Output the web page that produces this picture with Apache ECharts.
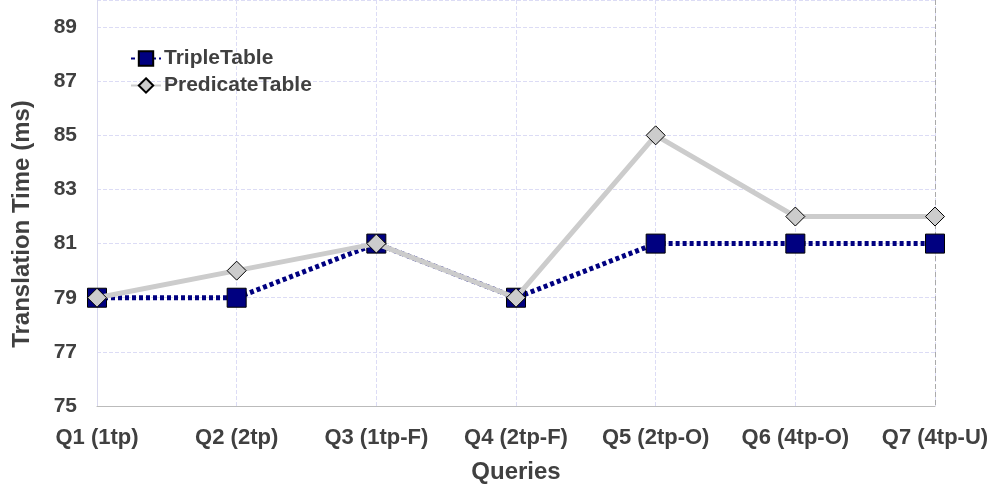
<!DOCTYPE html>
<html>
<head>
<meta charset="utf-8">
<script src="https://cdn.jsdelivr.net/npm/echarts@6/dist/echarts.min.js"></script>
<style>
html,body{margin:0;padding:0;background:#fff;}
#chart{width:994px;height:490px;}
</style>
</head>
<body>
<div id="chart"></div>
<script>
// Query labels along the x axis
const categories = ['Q1 (1tp)', 'Q2 (2tp)', 'Q3 (1tp-F)', 'Q4 (2tp-F)', 'Q5 (2tp-O)', 'Q6 (4tp-O)', 'Q7 (4tp-U)'];
// Translation times in milliseconds
const tripleTable = [79, 79, 81, 79, 81, 81, 81];
const predicateTable = [79, 80, 81, 79, 85, 82, 82];

const font = 'Liberation Sans, Arial, sans-serif';
const textColor = '#404040';

const chart = echarts.init(document.getElementById('chart'));
chart.setOption({
  animation: false,
  backgroundColor: '#fff',
  grid: { left: 97, right: 59, top: 0, bottom: 84, outerBoundsMode: 'none', containLabel: false },
  legend: {
    left: 125, top: 43,
    orient: 'vertical',
    itemGap: 6,
    itemWidth: 30, itemHeight: 18,
    textStyle: { fontFamily: font, fontSize: 21, fontWeight: 'bold', color: textColor, padding: [0, 0, 0, -2] },
    data: ['TripleTable', 'PredicateTable']
  },
  xAxis: {
    type: 'category',
    data: categories,
    boundaryGap: false,
    name: 'Queries',
    nameLocation: 'middle',
    nameGap: 54,
    nameTextStyle: { fontFamily: font, fontSize: 24, fontWeight: 'bold', color: textColor },
    axisLine: { lineStyle: { color: '#bbbbbb', width: 1 } },
    axisTick: { show: false },
    axisLabel: { interval: 0, fontFamily: font, fontSize: 22, fontWeight: 'bold', color: textColor, margin: 21 },
    splitLine: { show: true, interval: 0, lineStyle: { color: '#dcdcf5', type: 'dashed', width: 1 } }
  },
  yAxis: {
    type: 'value',
    min: 75, max: 90, interval: 2,
    axisLine: { show: true, lineStyle: { color: '#d8d8ee', width: 1 } },
    axisTick: { show: false },
    axisLabel: { fontFamily: font, fontSize: 21, fontWeight: 'bold', color: textColor, margin: 20, showMaxLabel: false },
    splitLine: { show: true, lineStyle: { color: '#dcdcf5', type: 'dashed', width: 1 } }
  },
  series: [
    {
      name: 'TripleTable',
      type: 'line',
      data: tripleTable,
      symbol: 'rect',
      symbolSize: 19,
      z: 2,
      lineStyle: { color: '#000080', width: 5, type: [4, 3] },
      itemStyle: { color: '#000080', borderColor: '#000000', borderWidth: 1 }
    },
    {
      name: 'PredicateTable',
      type: 'line',
      data: predicateTable,
      symbol: 'diamond',
      symbolSize: [19, 19],
      z: 3,
      lineStyle: { color: '#cccccc', width: 5 },
      itemStyle: { color: '#cccccc', borderColor: '#000000', borderWidth: 1 }
    }
  ],
  graphic: [
    {
      type: 'line',
      shape: { x1: 935.5, y1: 0, x2: 935.5, y2: 406 },
      style: { stroke: '#aaaaaa', lineWidth: 1, lineDash: [5, 3] },
      z: 1
    },
    {
      // Y axis title, set a little below the plot's middle
      type: 'text',
      x: 22, y: 224,
      rotation: Math.PI / 2,
      style: {
        text: 'Translation Time (ms)',
        fontFamily: font, fontSize: 24, fontWeight: 'bold', fill: textColor,
        align: 'center', verticalAlign: 'middle'
      }
    }
  ]
});
</script>
</body>
</html>
